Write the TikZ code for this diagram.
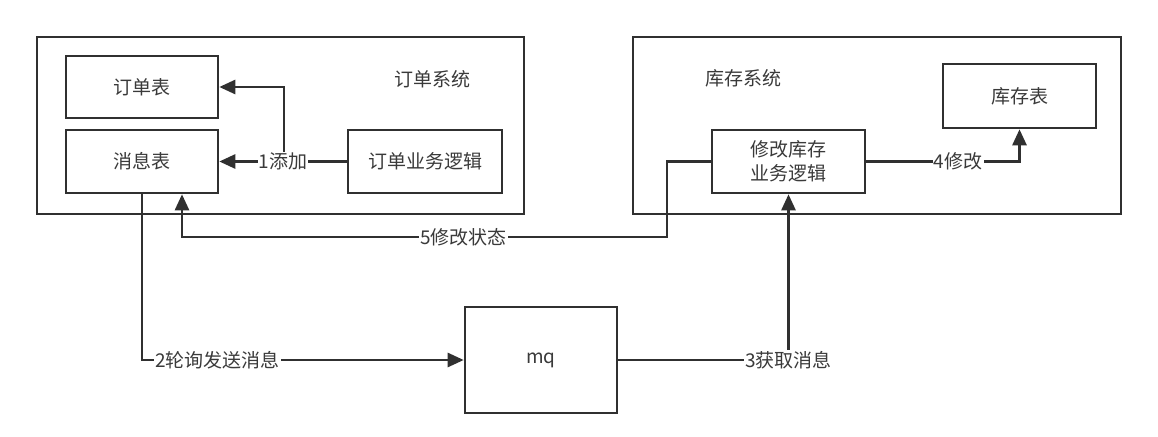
\documentclass[tikz,border=0pt]{standalone}
\usepackage{fontspec}
\setmainfont{Noto Sans CJK SC}
\usetikzlibrary{arrows.meta}
\definecolor{linec}{HTML}{303030}
\definecolor{textc}{HTML}{3A3A3A}
\begin{document}
\begin{tikzpicture}[x=1pt,y=-1pt,
  every node/.style={font=\fontsize{19}{23}\selectfont, text=textc},
  box/.style={draw=linec, line width=2.6pt, rectangle, inner sep=0pt, align=center},
  plain/.style={inner sep=0pt},
  lbl/.style={fill=white, inner sep=1pt},
  conn/.style={draw=linec, line width=2.6pt},
  arr/.style={conn, -{Triangle[length=16pt,width=14pt]}}]
\useasboundingbox (0,0) rectangle (1158,436);
\fill[white] (0,0) rectangle (1158,436);

% system frames
\node[box, minimum width=487pt, minimum height=177pt] (sysA) at (280.5,125.5) {};
\node[box, minimum width=488pt, minimum height=177pt] (sysB) at (877,125.5) {};
\node[plain] (sysAlbl) at (432,79) {订单系统};
\node[plain] (sysBlbl) at (743,78) {库存系统};

% boxes
\node[box, minimum width=152pt, minimum height=62pt] (ordT) at (142,87) {订单表};
\node[box, minimum width=152pt, minimum height=63pt] (msgT) at (142,161.5) {消息表};
\node[box, minimum width=154pt, minimum height=63pt] (ordL) at (425,161.5) {订单业务逻辑};
\node[box, minimum width=153pt, minimum height=64pt] (stkT) at (1019.5,96) {库存表};
\node[box, minimum width=153pt, minimum height=63pt, text width=150pt, font=\fontsize{19}{24}\selectfont] (modL) at (788.5,161.5) {修改库存\\业务逻辑};
\node[box, minimum width=152pt, minimum height=106pt] (mq) at (541,360) {mq};

% helper points
\coordinate (br) at (284,161.5);
\coordinate (c5a) at (667,161.5);
\coordinate (c5b) at (182,237);

% 1: add
\draw[arr] (ordL.west) -- (br) |- (ordT.east);
\draw[arr] (ordL.west) -- node[lbl, midway] {1添加} (msgT.east);

% 2: poll and send
\draw[arr] (msgT.south) -- (msgT.south |- mq.west) -- node[lbl, pos=0.235] {2轮询发送消息} (mq.west);

% 3: fetch
\draw[arr] (mq.east) -| node[lbl, pos=0.5] {3获取消息} (modL.south);

% 4: modify
\draw[arr] (modL.east) -| node[lbl, pos=0.30] {4修改} (stkT.south);

% 5: modify status
\draw[arr] (modL.west) -- (c5a) -- (c5a |- c5b) -- node[lbl, pos=0.42] {5修改状态} (c5b) -- (c5b |- msgT.south);
\end{tikzpicture}
\end{document}
